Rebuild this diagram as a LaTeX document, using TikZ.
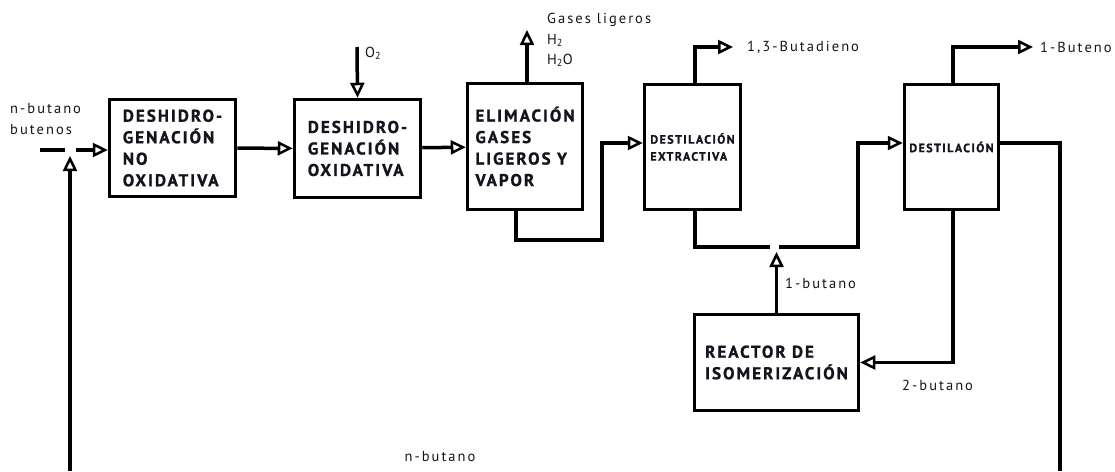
\documentclass[tikz,border=0pt]{standalone}
\usepackage{fontspec}
\setmainfont{PT Sans}
\newfontfamily\unitfamily[LetterSpace=12,BoldFeatures={FakeBold=1.2}]{PT Sans}
\newfontfamily\lblfamily[LetterSpace=14]{PT Sans}
\usetikzlibrary{arrows.meta,positioning}
\usepackage{xcolor}
\definecolor{lineColor}{RGB}{0,0,0}
\definecolor{textColor}{RGB}{20,20,30}
\newcommand{\unitfont}{\unitfamily\bfseries\fontsize{17}{21.5}\selectfont}
\newcommand{\colfont}{\unitfamily\bfseries\fontsize{12}{17}\selectfont}
\newcommand{\lblfont}{\lblfamily\fontsize{14.5}{20.5}\selectfont}

\begin{document}
\begin{tikzpicture}[x=1pt, y=-1pt,
        unit/.style={draw=lineColor, line width=3.5pt, align=left, inner sep=0pt, font=\unitfont, text=textColor},
        col/.style={unit, font=\colfont},
        lbl/.style={inner sep=0pt, align=left, font=\lblfont, text=textColor},
        line/.style={line width=3.5pt, lineColor},
        arr/.style={line, -{Triangle[open, length=15pt, width=14pt, line width=2.5pt]}}
      ]
      \useasboundingbox (0,0) rectangle (1115,471);

      % process units
      \node[unit, minimum width=126pt, minimum height=97pt] (dnox) at (172.5,148) {DESHIDRO-\\GENACIÓN\\NO\\OXIDATIVA};
      \node[unit, minimum width=126pt, minimum height=98pt] (dox) at (357.5,148.5) {DESHIDRO-\\GENACIÓN\\OXIDATIVA};
      \node[unit, minimum width=115pt, minimum height=126pt] (elim) at (525,146.5) {ELIMACIÓN\\GASES\\LIGEROS Y\\VAPOR};
      \node[col, minimum width=96pt, minimum height=125pt] (dext) at (692.5,147) {DESTILACIÓN\\EXTRACTIVA};
      \node[col, minimum width=94pt, minimum height=125pt] (dest) at (951.5,147) {DESTILACIÓN};
      \node[unit, minimum width=164pt, minimum height=96pt] (isom) at (776.5,362.5) {REACTOR DE\\ISOMERIZACIÓN};

      % free ends and junctions
      \coordinate (feed) at (40,150);
      \coordinate (splitA) at (65,150);
      \coordinate (splitB) at (76,150);
      \coordinate (recL) at (70,471);
      \coordinate (recLtip) at (70,156);
      \coordinate (oxin) at (357,47);
      \coordinate (gasout) at (527,30);
      \coordinate (jA) at (602,240);
      \coordinate (butaout) at (733,47);
      \coordinate (gapA) at (770,247);
      \coordinate (gapB) at (779,247);
      \coordinate (jB) at (858,247);
      \coordinate (isotip) at (776.5,252);
      \coordinate (butenout) at (1033,47);
      \coordinate (recR) at (1060,471);

      % labels
      \node[lbl, anchor=west] (feedlbl) at (10,119) {n-butano\\butenos};
      \node[lbl, anchor=west] (oxlbl) at (365,53) {O\textsubscript{2}};
      \node[lbl, anchor=north west] (gaslbl) at (547,13) {Gases ligeros\\H\textsubscript{2}\\H\textsubscript{2}O};
      \node[lbl, right=14pt of butaout] (butalbl) {1,3-Butadieno};
      \node[lbl, right=7pt of butenout] (butenlbl) {1-Buteno};
      \node[lbl, anchor=west] (oneb) at (785,283) {1-butano};
      \node[lbl, anchor=west] (twob) at (902,385) {2-butano};
      \node[lbl] (nbut) at (440,457) {n-butano};

      % streams
      \draw[line] (feed) -- (splitA);
      \draw[arr] (splitB) -- (splitB -| dnox.west);
      \draw[arr] (recL) -- (recLtip);
      \draw[arr] (dnox) -- (dox);
      \draw[arr] (oxin) -- (dox.north);
      \draw[arr] (dox) -- (elim);
      \draw[arr] ([xshift=2pt]elim.north) -- (gasout);
      \draw[arr] ([xshift=-9pt]elim.south) |- (jA) |- ([yshift=4pt]dext.west);
      \draw[arr] ([xshift=2.5pt]dext.north) |- (butaout);
      \draw[line] ([xshift=2.5pt]dext.south) |- (gapA);
      \draw[arr] (gapB) -- (jB) |- ([yshift=4pt]dest.west);
      \draw[arr] ([xshift=1.5pt]dest.north) |- (butenout);
      \draw[line] ([yshift=4pt]dest.east) -| (recR);
      \draw[arr] ([xshift=1.5pt]dest.south) |- (isom.east);
      \draw[arr] (isom.north) -- (isotip);
    \end{tikzpicture}
\end{document}
